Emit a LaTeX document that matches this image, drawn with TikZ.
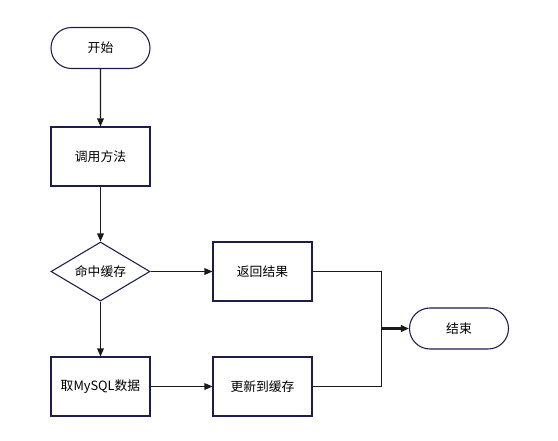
\documentclass[tikz,border=0pt]{standalone}
\usepackage{fontspec}
\setmainfont{Noto Sans CJK SC}
\usetikzlibrary{shapes.geometric,shapes.misc,arrows.meta}
\definecolor{bordc}{HTML}{1B1D4D}
\definecolor{linec}{HTML}{1A1A1A}
\tikzset{
  base/.style={draw=bordc, line width=0.8pt, fill=white, font=\fontsize{9.6pt}{11pt}\selectfont, inner sep=0pt, anchor=center},
  term/.style={base, rounded rectangle, minimum width=99*0.75pt, minimum height=41*0.75pt},
  procbox/.style={base, rectangle, minimum width=99*0.75pt, minimum height=59*0.75pt},
  decis/.style={base, diamond, aspect=1.68, minimum width=99*0.75pt, minimum height=59*0.75pt},
  conn/.style={draw=linec, line width=0.8pt, -{Triangle[length=6pt,width=5pt]}},
  plain/.style={draw=linec, line width=0.8pt}
}
\begin{document}
\begin{tikzpicture}[x=0.75pt,y=-0.75pt]
\useasboundingbox (0,0) rectangle (558,440);
\node[term] (start) at (100.5,48) {开始};
\node[procbox] (call) at (100.5,156.5) {调用方法};
\node[decis] (hit) at (100.5,271.5) {命中缓存};
\node[procbox] (ret) at (262.5,271.5) {返回结果};
\node[procbox] (sql) at (100.5,386.5) {取MySQL数据};
\node[procbox] (upd) at (262.5,386.5) {更新到缓存};
\node[term] (end) at (459,328.5) {结束};
\coordinate (mtop) at (381.5,271.5);
\coordinate (mbot) at (381.5,386.5);
\coordinate (mmid) at (381.5,328.5);
\draw[conn] (start) -- (call);
\draw[conn] (call) -- (hit);
\draw[conn] (hit) -- (ret);
\draw[conn] (hit) -- (sql);
\draw[conn] (sql) -- (upd);
\draw[plain] (ret.east) -- (mtop) -- (mbot) -- (upd.east);
\draw[draw=linec, line width=1.6pt, -{Triangle[length=6pt,width=5pt]}] (mmid) -- (end.west);
\end{tikzpicture}
\end{document}
